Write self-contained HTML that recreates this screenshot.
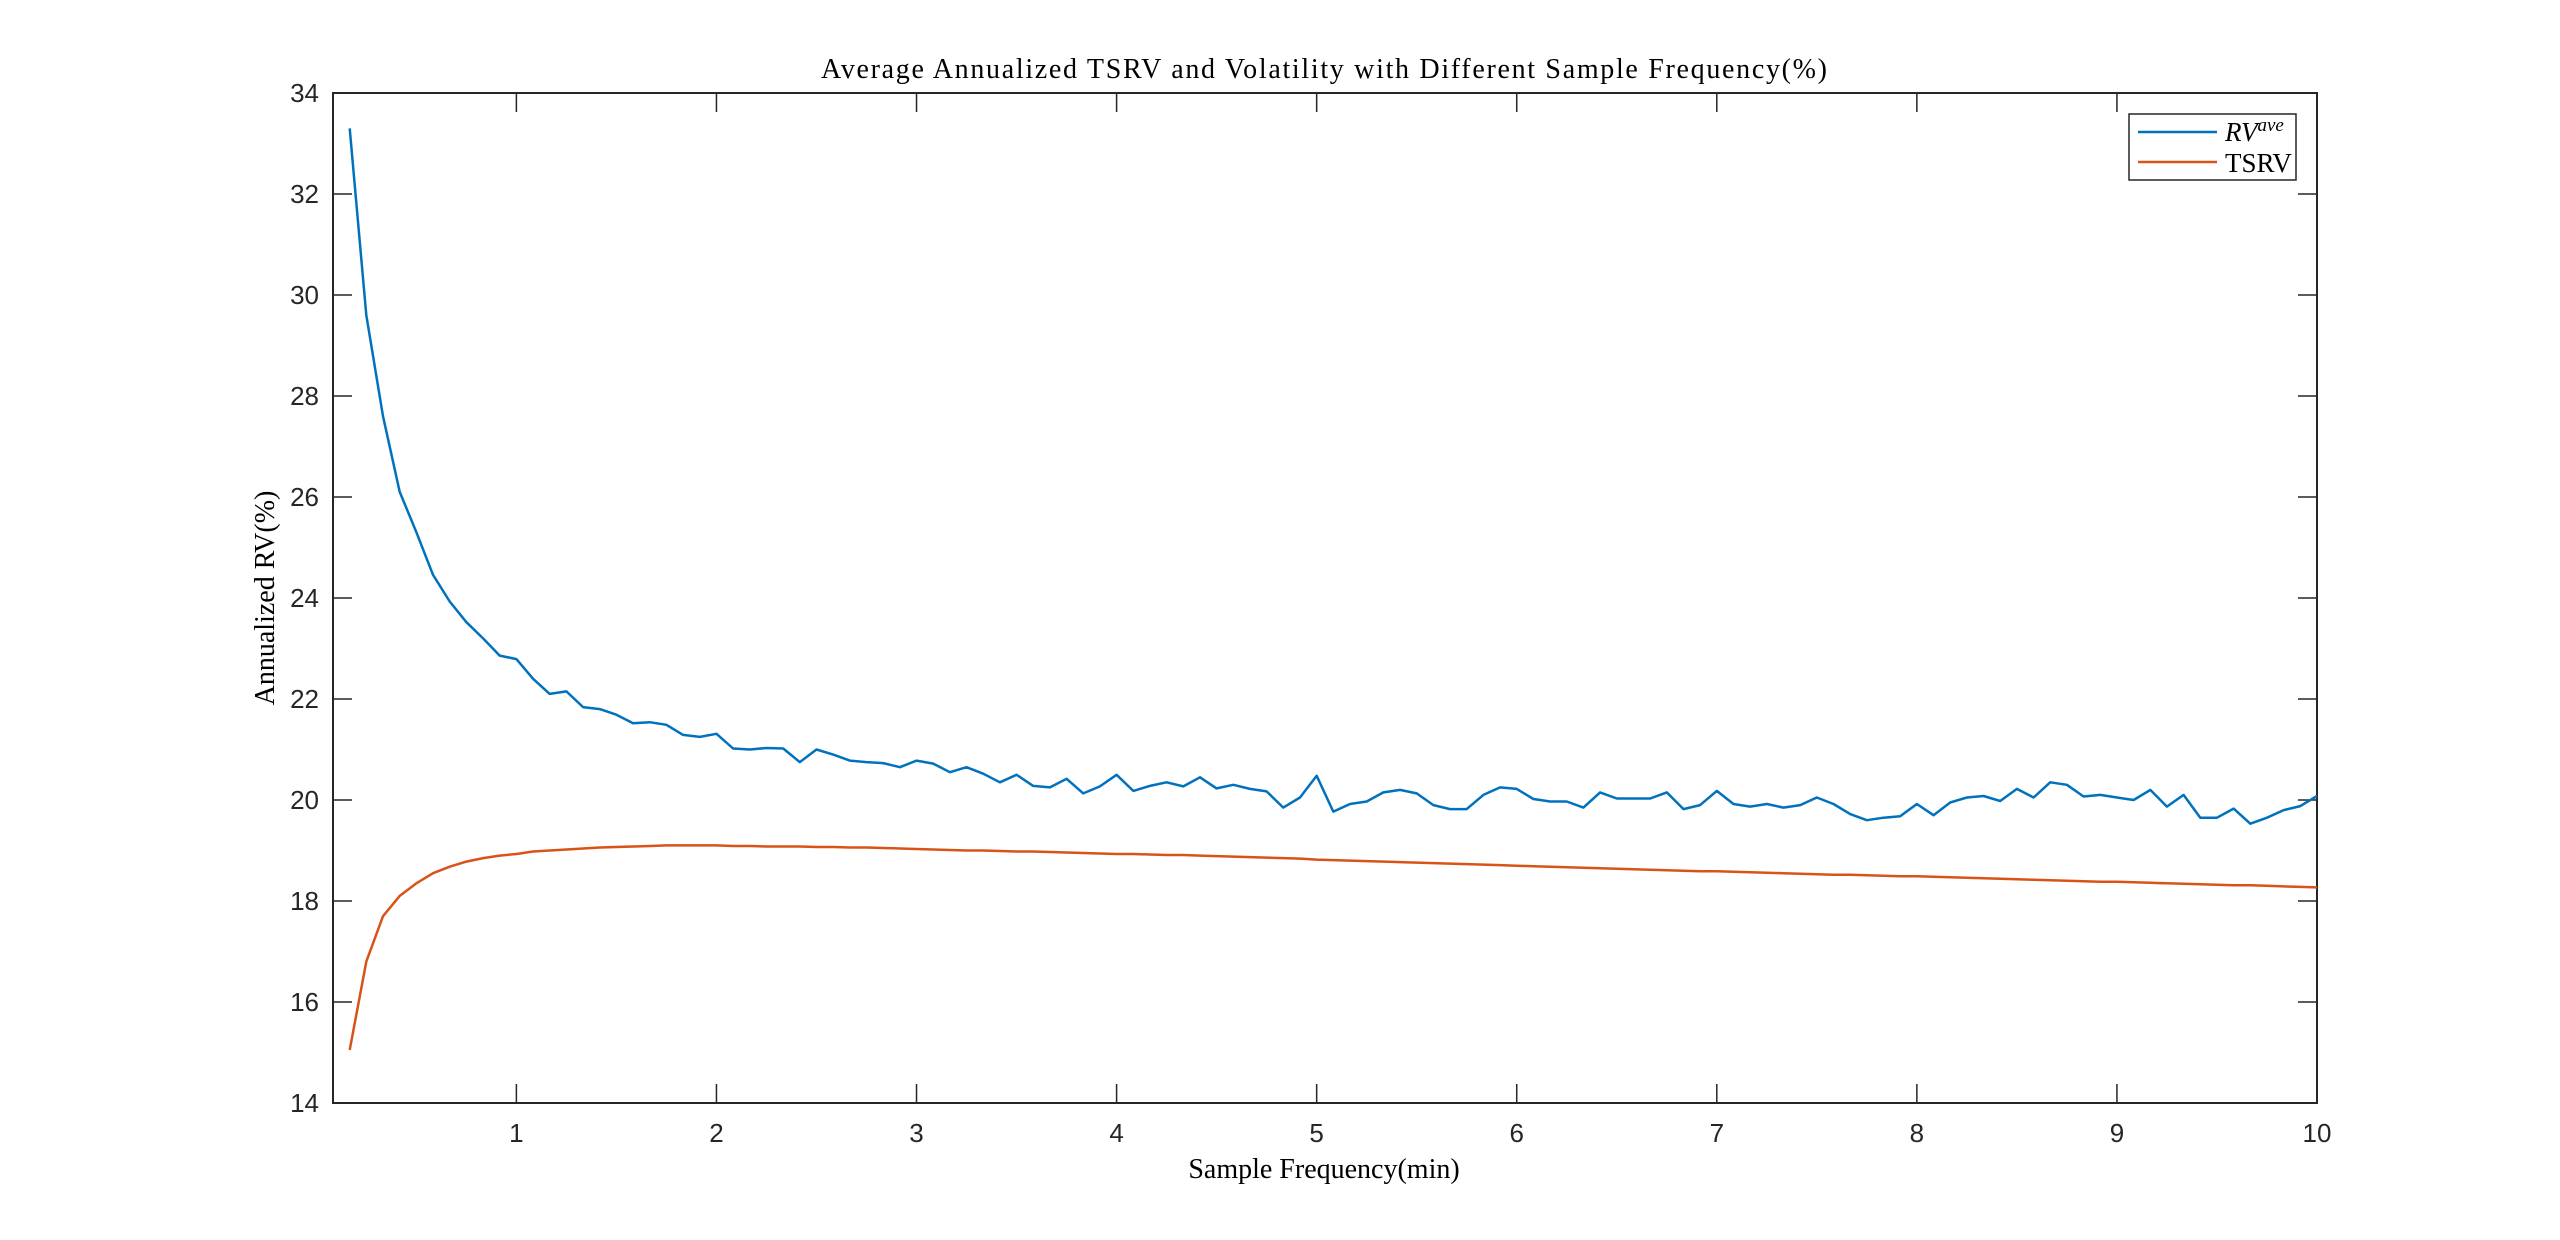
<!DOCTYPE html>
<html><head><meta charset="utf-8"><style>
html,body{margin:0;padding:0;background:#fff;}
svg{display:block;}
.tick{font-family:"Liberation Sans",sans-serif;font-size:26px;fill:#262626;}
.serif{font-family:"Liberation Serif",serif;fill:#000;}
</style></head><body>
<svg id="chart" width="2560" height="1240" viewBox="0 0 2560 1240" xmlns="http://www.w3.org/2000/svg">
<rect x="0" y="0" width="2560" height="1240" fill="#fff"/>
<text x="1324" y="78" text-anchor="middle" class="serif" font-size="28" textLength="1006">Average Annualized TSRV and Volatility with Different Sample Frequency(%)</text>
<text x="1324" y="1178" text-anchor="middle" class="serif" font-size="28">Sample Frequency(min)</text>
<text x="0" y="0" transform="translate(274,598) rotate(-90)" text-anchor="middle" class="serif" font-size="28">Annualized RV(%)</text>
<g id="grid"></g>
<g id="series"></g>
<g>
<rect x="2129" y="114" width="167" height="66" fill="#fff" stroke="#262626" stroke-width="1.5"/>
<line x1="2138" y1="132" x2="2217" y2="132" stroke="#0072BD" stroke-width="2.5"/>
<text x="2225" y="141" class="serif" font-size="27"><tspan font-style="italic">RV</tspan><tspan font-style="italic" font-size="19" dy="-10">ave</tspan></text>
<line x1="2138" y1="162" x2="2217" y2="162" stroke="#D95319" stroke-width="2.5"/>
<text x="2225" y="172" class="serif" font-size="27">TSRV</text>
</g>
</svg>
<script>
const xTicks = [1,2,3,4,5,6,7,8,9,10];
const yTicks = [14,16,18,20,22,24,26,28,30,32,34];
const rvAve = [33.3,29.6,27.6,26.1,25.3,24.46,23.93,23.52,23.2,22.86,22.79,22.4,22.1,22.15,21.84,21.8,21.69,21.52,21.54,21.49,21.29,21.25,21.31,21.02,21.0,21.03,21.02,20.75,21.0,
20.9,20.78,20.75,20.73,20.65,20.78,20.72,20.55,20.65,20.52,20.35,20.5,20.28,20.25,20.42,20.13,20.27,20.5,20.18,20.28,20.35,20.27,20.45,20.23,20.3,20.22,20.17,19.85,20.05,20.48,
19.77,19.92,19.97,20.15,20.2,20.13,19.9,19.82,19.82,20.1,20.25,20.22,20.02,19.97,19.97,19.85,20.15,20.03,20.03,20.03,20.15,19.82,19.9,20.18,19.92,19.87,19.92,19.85,19.9,20.05,
19.92,19.72,19.6,19.65,19.68,19.92,19.7,19.95,20.05,20.08,19.98,20.22,20.05,20.35,20.3,20.07,20.1,20.05,20.0,20.2,19.87,20.1,19.65,19.65,19.83,19.53,19.65,19.8,19.88,20.08];
const tsrv = [15.05,16.8,17.7,18.1,18.35,18.55,18.68,18.78,18.85,18.9,18.93,18.98,19.0,19.02,19.04,19.06,19.07,19.08,
19.09,19.1,19.1,19.1,19.1,19.09,19.09,19.08,19.08,19.08,19.07,19.07,19.06,19.06,19.05,19.04,19.03,
19.02,19.01,19.0,19.0,18.99,18.98,18.98,18.97,18.96,18.95,18.94,18.93,
18.93,18.92,18.91,18.91,18.9,18.89,18.88,18.87,18.86,18.85,18.84,18.82,
18.81,18.8,18.79,18.78,18.77,18.76,18.75,18.74,18.73,18.72,18.71,18.7,
18.69,18.68,18.67,18.66,18.65,18.64,18.63,18.62,18.61,18.6,18.59,18.59,
18.58,18.57,18.56,18.55,18.54,18.53,18.52,18.52,18.51,18.5,18.49,18.49,
18.48,18.47,18.46,18.45,18.44,18.43,18.42,18.41,18.4,18.39,18.38,18.38,
18.37,18.36,18.35,18.34,18.33,18.32,18.31,18.31,18.3,18.29,18.28,18.27];
const xMin = 1/12, xMax = 10, yMin = 14, yMax = 34;
const L = 333, R = 2317, T = 93, B = 1103;
const NS = 'http://www.w3.org/2000/svg';
function sx(v){ return L + (v - xMin) / (xMax - xMin) * (R - L); }
function sy(v){ return B - (v - yMin) / (yMax - yMin) * (B - T); }
function mk(tag, attrs){ const e = document.createElementNS(NS, tag); for (const k in attrs) e.setAttribute(k, attrs[k]); return e; }
const grid = document.getElementById('grid');
const series = document.getElementById('series');
const frame = mk('rect', {x:L, y:T, width:R-L, height:B-T, fill:'none', stroke:'#262626', 'stroke-width':2});


grid.appendChild(frame);
xTicks.forEach(function(t){
  const x = sx(t);
  const a = mk('path', {d:'M'+x+' '+B+'V'+(B-19)+'M'+x+' '+T+'V'+(T+19), stroke:'#262626', 'stroke-width':1.5});
  
  
  grid.appendChild(a);
  const lb = mk('text', {x:x, y:1142, 'text-anchor':'middle', class:'tick'});
  lb.textContent = t;
  
  
  grid.appendChild(lb);
});
yTicks.forEach(function(t){
  const y = sy(t);
  const a = mk('path', {d:'M'+L+' '+y+'H'+(L+19)+'M'+R+' '+y+'H'+(R-19), stroke:'#262626', 'stroke-width':1.5});
  
  
  grid.appendChild(a);
  const lb = mk('text', {x:319, y:y+9, 'text-anchor':'end', class:'tick'});
  lb.textContent = t;
  
  
  grid.appendChild(lb);
});
function line(vals, color, name){
  const pts = vals.map(function(v, i){ return sx((i + 2) / 12).toFixed(1) + ',' + sy(v).toFixed(1); }).join(' ');
  const p = mk('polyline', {points:pts, fill:'none', stroke:color, 'stroke-width':2.5, 'stroke-linejoin':'round'});
  
  
  series.appendChild(p);
}
line(rvAve, '#0072BD', 'rv-ave-line');
line(tsrv, '#D95319', 'tsrv-line');
</script>
</body></html>
